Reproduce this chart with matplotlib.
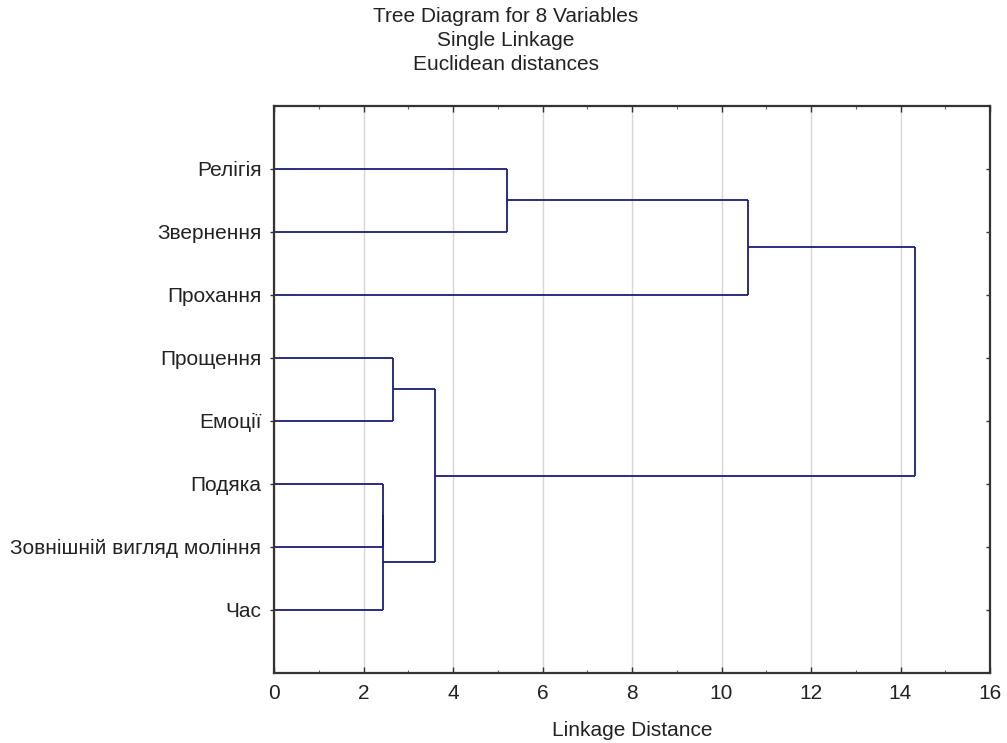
import matplotlib.pyplot as plt
from matplotlib.ticker import MultipleLocator

plt.rcParams['font.family'] = ['Liberation Sans', 'DejaVu Sans']

# leaves, top to bottom
labels = ['Релігія', 'Звернення', 'Прохання', 'Прощення', 'Емоції',
          'Подяка', 'Зовнішній вигляд моління', 'Час']

# joins: (left node, right node, linkage distance)
# nodes 0..7 are leaves, 8.. are clusters in the order they are formed
merge_a = [5, 8, 3, 10, 0, 12, 13]
merge_b = [6, 7, 4, 9, 1, 2, 11]
merge_dist = [2.44, 2.44, 2.65, 3.59, 5.20, 10.60, 14.33]

line_col = '#1c1c78'
txt_col = '#222222'
fs = 15

fig = plt.figure(figsize=(10.07, 7.43), dpi=100)
ax = fig.add_axes([274 / 1007, 1 - 672.7 / 743, (990 - 274) / 1007, (672.7 - 105.7) / 743])

node_y = [i + 1 for i in range(len(labels))]
node_x = [0.0] * len(labels)
for a, b, d in zip(merge_a, merge_b, merge_dist):
    ya, yb = node_y[a], node_y[b]
    ax.plot([node_x[a], d], [ya, ya], color=line_col, lw=1.3, solid_capstyle='butt')
    ax.plot([node_x[b], d], [yb, yb], color=line_col, lw=1.3, solid_capstyle='butt')
    ax.plot([d, d], [ya, yb], color=line_col, lw=1.3, solid_capstyle='butt')
    node_y.append((ya + yb) / 2)
    node_x.append(d)

ax.set_xlim(0, 16)
ax.set_ylim(len(labels) + 1, 0)
ax.xaxis.set_major_locator(MultipleLocator(2))
ax.xaxis.set_minor_locator(MultipleLocator(1))
ax.set_yticks(range(1, len(labels) + 1))
ax.set_yticklabels(labels, fontsize=fs, color=txt_col)
ax.tick_params(axis='x', which='major', direction='in', top=True, length=4,
               width=1, labelsize=fs, pad=8, colors='#333333', labelcolor=txt_col)
ax.tick_params(axis='x', which='minor', direction='in', top=True, length=2, width=0.8,
               colors='#666666')
ax.tick_params(axis='y', direction='out', length=3, width=1, pad=6, colors='#333333',
               labelcolor=txt_col)

# short inward ticks on the right edge
rax = ax.secondary_yaxis('right')
rax.set_yticks(range(1, len(labels) + 1))
rax.tick_params(direction='in', length=3, width=1, colors='#333333', labelright=False)
rax.spines['right'].set_visible(False)

ax.grid(axis='x', color='#d6d6d6', lw=1)
ax.set_axisbelow(True)
for s in ax.spines.values():
    s.set_color('#333333')
    s.set_linewidth(1.6)

ax.set_xlabel('Linkage Distance', fontsize=fs, color=txt_col, labelpad=13)

fig.text(0.502, 1 - 16 / 743, 'Tree Diagram for 8 Variables', ha='center', va='center',
         fontsize=fs, color=txt_col)
fig.text(0.502, 1 - 40 / 743, 'Single Linkage', ha='center', va='center',
         fontsize=fs, color=txt_col)
fig.text(0.502, 1 - 64 / 743, 'Euclidean distances', ha='center', va='center',
         fontsize=fs, color=txt_col)

fig.savefig('out.png', dpi=100, facecolor='white')
